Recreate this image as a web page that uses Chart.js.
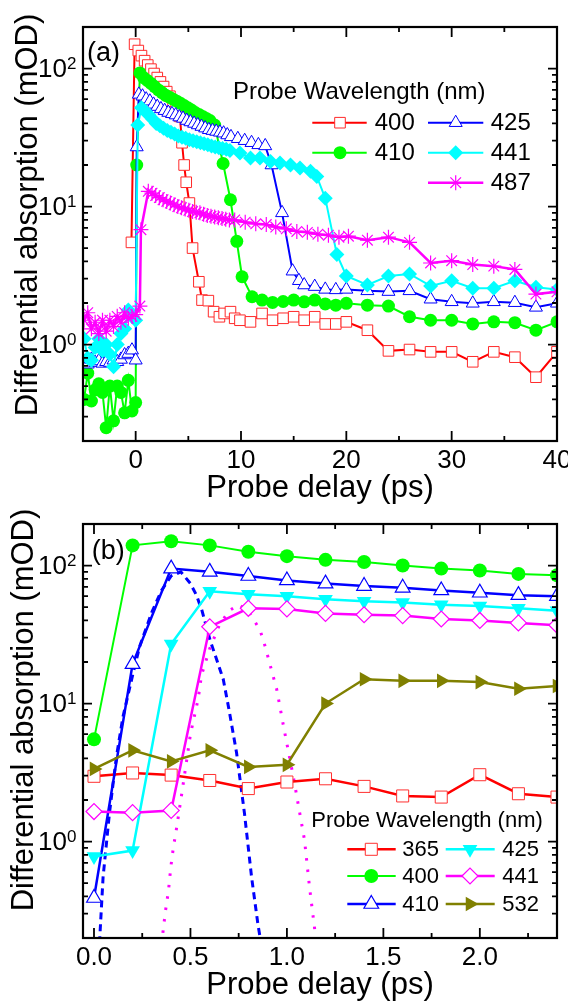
<!DOCTYPE html>
<html>
<head>
<meta charset="utf-8">
<title>Probe delay traces</title>
<script src="https://cdn.jsdelivr.net/npm/chart.js@4.4.0/dist/chart.umd.min.js"></script>
<style>
  html, body { margin: 0; padding: 0; background: #fff; }
  canvas { display: block; }
</style>
</head>
<body>
<canvas id="chartA" width="568" height="510"></canvas>
<canvas id="chartB" width="568" height="496"></canvas>
<script>
/* ---------- panel (a) data : probe delay (ps) / absorption (mOD) ---------- */
const t400 = [-0.4, -0.1, 0.25, 0.55, 0.85, 1.15, 1.45, 1.75, 2.05, 2.35, 2.65, 2.95, 3.25, 3.55, 3.85,
  4.2, 4.4, 4.6, 4.8, 5.1, 5.4, 6.0, 6.3, 6.9, 7.4, 7.95, 8.4, 9.0, 9.4, 9.9,
  10.9, 12, 13, 14, 15, 16, 17, 18, 19, 20, 22, 24, 26, 28, 30, 32, 34, 36, 38, 40];
const v400 = [5.5, 150, 135, 124, 114, 106, 99, 92, 86, 80, 74, 68, 63, 58, 53,
  45, 29, 20, 15, 10.6, 5.0, 2.85, 2.1, 2.08, 1.73, 1.59, 1.68, 1.73, 1.55, 1.5,
  1.46, 1.68, 1.5, 1.55, 1.59, 1.5, 1.59, 1.41, 1.41, 1.46, 1.27, 0.9, 0.92, 0.885, 0.885, 0.75, 0.885, 0.81, 0.58, 0.885];

const t410 = [-4.9, -4.55, -4.2, -3.85, -3.5, -3.15, -2.8, -2.45, -2.1, -1.75, -1.4, -1.05, -0.7, -0.35, 0.0, 0.1,
  0.4, 0.75, 1.1, 1.45, 1.8, 2.15, 2.5, 2.85, 3.2, 3.55, 3.9, 4.25, 4.6, 4.95, 5.3, 5.65, 6.0, 6.35, 6.7, 7.05,
  7.5, 8.3, 9.0, 9.6, 10.1, 11.05, 12, 13, 14, 15, 16, 17, 18, 19, 20, 22, 24, 26, 28, 30, 32, 34, 36, 38, 40];
const v410 = [0.4, 0.62, 0.39, 0.47, 0.52, 0.45, 0.25, 0.5, 0.28, 0.5, 0.45, 0.32, 0.55, 0.33, 0.38, 20,
  93, 86, 82, 78, 74, 70, 67, 64, 62, 60, 58, 56, 54, 52, 50, 48, 46.5, 45, 43.5, 42,
  39, 20.5, 11.2, 5.6, 3.1, 2.22, 2.1, 2.02, 2.05, 2.1, 2.04, 2.1, 1.97, 1.93, 1.99, 1.93, 1.9, 1.59, 1.5, 1.5, 1.41, 1.46, 1.44, 1.27, 1.46];

const t425 = [-4.9, -4.55, -4.2, -3.85, -3.5, -3.15, -2.8, -2.45, -2.1, -1.75, -1.4, -1.05, -0.7, -0.35, 0.0, 0.1,
  0.3, 0.65, 1.0, 1.35, 1.7, 2.05, 2.4, 2.75, 3.1, 3.45, 3.8, 4.15, 4.5, 4.85, 5.2, 5.55, 5.9, 6.25, 6.6, 6.95,
  7.3, 7.65, 8.0, 8.35, 8.7, 9.05, 9.7, 10.35, 11.0, 11.65, 12.3, 12.9, 13.9, 14.9, 15.5,
  16, 17, 18, 19, 20, 22, 24, 26, 28, 30, 32, 34, 36, 38, 40];
const v425 = [0.75, 0.72, 0.78, 0.74, 0.76, 0.73, 0.75, 0.74, 0.77, 0.75, 0.78, 0.84, 0.86, 0.91, 0.77, 27,
  65, 63, 60, 58, 55, 53, 51, 49.5, 48, 47, 46, 44.5, 43.5, 42, 41, 40, 39, 38, 37, 36,
  35.5, 35, 34.5, 34, 33, 32, 31, 30, 29, 28, 27.5, 20, 9.0, 3.4, 2.9,
  2.7, 2.63, 2.51, 2.49, 2.51, 2.45, 2.42, 2.45, 2.13, 2.04, 1.99, 2.04, 2.01, 1.86, 1.99];

const t441 = [-4.9, -4.55, -4.2, -3.85, -3.5, -3.15, -2.8, -2.45, -2.1, -1.75, -1.4, -1.05, -0.7, -0.35, 0.0, 0.2,
  0.55, 0.9, 1.25, 1.6, 1.95, 2.3, 2.65, 3.0, 3.35, 3.7, 4.05, 4.4, 4.75, 5.1, 5.45, 5.8, 6.15, 6.5, 6.85, 7.2,
  7.55, 7.9, 8.25, 8.6, 8.95, 9.9, 10.9, 11.8, 12.8, 13.7, 14.7, 15.6, 16.6, 17.2, 18.0, 19.1, 20,
  22, 24, 26, 28, 30, 32, 34, 36, 38, 40];
const v441 = [1.1, 0.8, 0.77, 0.95, 1.1, 0.9, 1.0, 0.85, 0.69, 1.0, 1.2, 1.3, 1.78, 1.6, 1.5, 39,
  52, 49, 46, 43, 40, 38.5, 37, 35.5, 34.5, 33.5, 32.5, 31.8, 31.2, 30.5, 30, 29.5, 29, 28.5, 28, 27.5,
  27, 26.7, 26.3, 26, 25.5, 24.4, 22.5, 22.5, 21.2, 20.7, 20, 19, 18, 16.5, 11.5, 4.5, 3.14,
  2.7, 3.14, 3.25, 2.66, 2.9, 2.56, 2.56, 2.9, 2.6, 2.51];

const t487 = [-4.9, -4.55, -4.2, -3.85, -3.5, -3.15, -2.8, -2.45, -2.1, -1.75, -1.4, -1.05, -0.7, -0.35, 0.0, 0.4, 0.5,
  1.2, 1.55, 1.9, 2.25, 2.6, 2.95, 3.3, 3.65, 4.0, 4.35, 4.7, 5.05, 5.4, 5.75, 6.1, 6.45, 6.8, 7.15, 7.5, 7.85, 8.2, 8.55, 8.9,
  9.4, 10.4, 11.4, 12.4, 13.3, 14.3, 15.3, 16.3, 17.3, 18.3, 19.3, 20.2, 22, 24, 26, 28, 30, 32, 34, 36, 38, 40];
const v487 = [1.5, 1.7, 1.3, 1.45, 1.2, 1.5, 1.25, 1.5, 1.35, 1.6, 1.45, 1.7, 1.55, 1.6, 1.65, 1.9, 6.8,
  12.9, 12.5, 12, 11.6, 11.2, 10.9, 10.6, 10.3, 10, 9.8, 9.6, 9.4, 9.2, 9.1, 9.0, 8.8, 8.6, 8.5, 8.4, 8.3, 8.2, 8.1, 8.0,
  8.0, 7.7, 7.5, 7.4, 7.1, 6.9, 6.6, 6.5, 6.3, 6.2, 6.0, 6.1, 5.7, 6.0, 5.5, 3.9, 4.05, 3.8, 3.7, 3.5, 2.32, 2.41];

/* ---------- panel (b) data ---------- */
const delayB = [0, 0.2, 0.4, 0.6, 0.8, 1.0, 1.2, 1.4, 1.6, 1.8, 2.0, 2.2, 2.4];
const b365 = [2.97, 3.14, 3.03, 2.77, 2.42, 2.7, 2.85, 2.51, 2.14, 2.1, 3.05, 2.22, 2.1];
const b400 = [5.5, 140, 150, 140, 126, 117, 110, 106, 100, 95, 92, 87, 85];
const b410 = [0.39, 19.3, 95, 90, 84, 78, 74, 71, 69, 66, 63.5, 61, 60];
const b425 = [0.78, 0.86, 27, 65, 62, 60, 57, 55, 54, 52, 51, 49, 47];
const b441 = [1.65, 1.62, 1.68, 36, 49, 48.5, 45, 44, 43.4, 41, 40, 38.4, 37];
const b532 = [3.36, 4.58, 3.81, 4.58, 3.47, 3.6, 10, 15, 14.6, 14.6, 14.3, 12.8, 13.4];

// dashed (blue) and dotted (magenta) curves
const dashT = [0.025, 0.047, 0.08, 0.116, 0.15, 0.2, 0.237, 0.3, 0.35, 0.4, 0.45, 0.5, 0.531, 0.56, 0.601, 0.64, 0.67, 0.7, 0.739, 0.78, 0.817, 0.85, 0.88];
const dashV = [0.15, 0.55, 1.6, 4.1, 8, 16, 26, 46, 66, 84, 90, 74, 61, 47, 29, 20, 15, 9, 4.4, 1.6, 0.55, 0.25, 0.14];
const dotT = [0.35, 0.37, 0.386, 0.398, 0.412, 0.424, 0.45, 0.473, 0.5, 0.54, 0.557, 0.6, 0.65, 0.7, 0.75, 0.8, 0.817, 0.861, 0.887, 0.913, 0.947, 0.982, 1.039, 1.065, 1.091, 1.117, 1.134, 1.146, 1.165];
const dotV = [0.18, 0.31, 0.44, 0.65, 0.92, 1.15, 2.0, 3.3, 6, 10.8, 16, 25, 37, 47, 52, 47, 43, 34, 26, 19, 12.7, 6.9, 2.67, 1.65, 1.03, 0.47, 0.3, 0.22, 0.15];

/* ---------- ticks ---------- */
const xMajorA = [0, 10, 20, 30, 40];
const xMinorA = [5, 15, 25, 35];
const xMajorB = [0, 0.5, 1.0, 1.5, 2.0];
const xMinorB = [0.25, 0.75, 1.25, 1.75, 2.25];
const yDecades = [0, 1, 2];

const FONT = '"Liberation Sans", Arial, sans-serif';
Chart.defaults.font.family = FONT;
Chart.defaults.color = '#000';

function series(ts, vs, style) {
  return Object.assign({
    data: ts.map((t, i) => ({ x: t, y: vs[i] })),
    tension: 0, fill: false, clip: 0, pointHoverRadius: style.pointRadius
  }, style);
}

// log minor ticks 2..9 within the axis range
function logMinors(min, max) {
  const out = [];
  [0.1, 1, 10, 100].forEach(d => {
    for (let m = 2; m <= 9; m++) {
      const v = m * d;
      if (v >= min && v <= max) out.push(v);
    }
  });
  return out;
}

// frame, inward ticks, y labels with exponents, y title, panel tag, legend
const framePlugin = {
  id: 'frame',
  afterDraw(chart, args, o) {
    const { ctx, chartArea: a, scales: { x, y } } = chart;
    ctx.save();
    ctx.strokeStyle = '#000';
    ctx.lineWidth = 1.8;
    ctx.beginPath();
    o.xMajor.concat(o.xMinor).forEach(v => {
      const len = o.xMajor.includes(v) ? 10 : 5;
      const px = x.getPixelForValue(v);
      ctx.moveTo(px, a.bottom); ctx.lineTo(px, a.bottom - len);
      ctx.moveTo(px, a.top); ctx.lineTo(px, a.top + len);
    });
    const majY = yDecades.map(e => Math.pow(10, e));
    majY.concat(logMinors(y.min, y.max)).forEach(v => {
      const len = majY.includes(v) ? 9 : 5;
      const py = y.getPixelForValue(v);
      ctx.moveTo(a.left, py); ctx.lineTo(a.left + len, py);
      ctx.moveTo(a.right, py); ctx.lineTo(a.right - len, py);
    });
    ctx.stroke();
    ctx.lineWidth = 2.2;
    ctx.strokeRect(a.left, a.top, a.right - a.left, a.bottom - a.top);

    // y tick labels 10^n
    ctx.fillStyle = '#000';
    yDecades.forEach(e => {
      const py = y.getPixelForValue(Math.pow(10, e));
      ctx.font = '26px ' + FONT;
      ctx.textAlign = 'right';
      ctx.textBaseline = 'middle';
      ctx.fillText('10', a.left - 16, py + 1.5);
      ctx.font = '17px ' + FONT;
      ctx.textAlign = 'left';
      ctx.textBaseline = 'alphabetic';
      ctx.fillText(String(e), a.left - 16, py);
    });

    // y title
    ctx.save();
    ctx.translate(a.left + o.yTitle[0], a.top + o.yTitle[1]);
    ctx.rotate(-Math.PI / 2);
    ctx.font = '31px ' + FONT;
    ctx.textAlign = 'center';
    ctx.textBaseline = 'middle';
    ctx.fillText('Differential absorption (mOD)', 0, 0);
    ctx.restore();

    // panel tag
    ctx.font = '27px ' + FONT;
    ctx.textAlign = 'left';
    ctx.textBaseline = 'alphabetic';
    ctx.fillText(o.tag[0], a.left + o.tag[1], a.top + o.tag[2]);

    // legend
    const L = o.legend;
    ctx.font = L.size + 'px ' + FONT;
    ctx.fillText('Probe Wavelength (nm)', a.left + L.titleX, a.top + L.titleY);
    ctx.textBaseline = 'middle';
    L.items.forEach(([di, c, r]) => {
      const ds = chart.data.datasets[di];
      const col = L.cols[c];
      const yy = a.top + L.rows[r];
      ctx.setLineDash([]);
      ctx.strokeStyle = ds.borderColor;
      ctx.lineWidth = ds.borderWidth;
      ctx.beginPath();
      ctx.moveTo(a.left + col[0], yy);
      ctx.lineTo(a.left + col[1], yy);
      ctx.stroke();
      ctx.fillStyle = ds.pointBackgroundColor;
      ctx.strokeStyle = ds.pointBorderColor;
      ctx.lineWidth = ds.pointBorderWidth;
      Chart.helpers.drawPoint(ctx, {
        pointStyle: ds.pointStyle, radius: ds.pointRadius,
        rotation: ds.pointRotation || 0, borderWidth: ds.pointBorderWidth
      }, a.left + col[2], yy);
      ctx.fillStyle = '#000';
      ctx.fillText(ds.label, a.left + col[3], yy + 1);
    });
    ctx.restore();
  }
};

function makeOptions(cfg) {
  return {
    responsive: false,
    animation: false,
    events: [],
    layout: { padding: { left: 0, right: 11, top: cfg.top, bottom: 0 } },
    plugins: {
      legend: { display: false },
      tooltip: { enabled: false },
      frame: cfg.frame
    },
    scales: {
      x: {
        type: 'linear', min: cfg.xMin, max: cfg.xMax,
        afterFit: s => { s.height = cfg.xHeight; s.paddingLeft = 0; s.paddingRight = 0; },
        afterBuildTicks: s => { s.ticks = cfg.frame.xMajor.map(v => ({ value: v })); },
        ticks: { font: { size: 26 }, color: '#000', padding: 4, maxRotation: 0, autoSkip: false, callback: cfg.fmt },
        grid: { display: false, drawTicks: false },
        border: { display: false },
        title: { display: true, text: 'Probe delay (ps)', color: '#000', font: { size: 31, lineHeight: 1 }, padding: { top: 0, bottom: cfg.titlePad } }
      },
      y: {
        type: 'logarithmic', min: 0.2, max: 200,
        afterFit: s => { s.width = 83; },
        ticks: { display: false },
        grid: { display: false, drawTicks: false },
        border: { display: false }
      }
    }
  };
}

/* ---------- panel (a) ---------- */
new Chart(document.getElementById('chartA'), {
  type: 'line',
  data: {
    datasets: [
      series(t400, v400, { label: '400', borderColor: '#ff0000', borderWidth: 2, pointStyle: 'rect', pointRadius: 7.5,
        pointBackgroundColor: '#ffffff', pointBorderColor: '#ff2a2a', pointBorderWidth: 1, order: 5 }),
      series(t410, v410, { label: '410', borderColor: '#00ff00', borderWidth: 2, pointStyle: 'circle', pointRadius: 6.5,
        pointBackgroundColor: '#00ff00', pointBorderColor: '#00ff00', pointBorderWidth: 0, order: 4 }),
      series(t425, v425, { label: '425', borderColor: '#0000ff', borderWidth: 2, pointStyle: 'triangle', pointRadius: 7.5,
        pointBackgroundColor: '#ffffff', pointBorderColor: '#0000ff', pointBorderWidth: 1, order: 3 }),
      series(t441, v441, { label: '441', borderColor: '#00ffff', borderWidth: 2, pointStyle: 'rectRot', pointRadius: 7.5,
        pointBackgroundColor: '#00ffff', pointBorderColor: '#00ffff', pointBorderWidth: 0, order: 2 }),
      series(t487, v487, { label: '487', borderColor: '#ff00ff', borderWidth: 2.5, pointStyle: 'star', pointRadius: 7.5,
        pointBackgroundColor: '#ff00ff', pointBorderColor: '#ff00ff', pointBorderWidth: 1.2, order: 1 })
    ]
  },
  options: makeOptions({
    top: 27, xMin: -5, xMax: 40, xHeight: 69, titlePad: 6,
    fmt: v => String(v),
    frame: {
      xMajor: xMajorA, xMinor: xMinorA,
      yTitle: [-55, 188],
      tag: ['(a)', 4, 34],
      legend: {
        size: 24, titleX: 150, titleY: 72,
        rows: [95.7, 125.7, 155.7],
        cols: [[229.3, 283.7, 257, 291.7], [345, 400.3, 372.7, 407.7]],
        items: [[0, 0, 0], [1, 0, 1], [2, 1, 0], [3, 1, 1], [4, 1, 2]]
      }
    }
  }),
  plugins: [framePlugin]
});

/* ---------- panel (b) ---------- */
new Chart(document.getElementById('chartB'), {
  type: 'line',
  data: {
    datasets: [
      series(delayB, b365, { label: '365', borderColor: '#ff0000', borderWidth: 2.5, pointStyle: 'rect', pointRadius: 8.5,
        pointBackgroundColor: '#ffffff', pointBorderColor: '#ff3030', pointBorderWidth: 1, order: 6 }),
      series(delayB, b400, { label: '400', borderColor: '#00ff00', borderWidth: 2, pointStyle: 'circle', pointRadius: 7,
        pointBackgroundColor: '#00ff00', pointBorderColor: '#00ff00', pointBorderWidth: 0, order: 5 }),
      series(delayB, b410, { label: '410', borderColor: '#0000ff', borderWidth: 2.5, pointStyle: 'triangle', pointRadius: 8.5,
        pointBackgroundColor: '#ffffff', pointBorderColor: '#0000ff', pointBorderWidth: 1.2, order: 4 }),
      series(delayB, b425, { label: '425', borderColor: '#00ffff', borderWidth: 2.5, pointStyle: 'triangle', pointRotation: 180, pointRadius: 8.5,
        pointBackgroundColor: '#00ffff', pointBorderColor: '#00ffff', pointBorderWidth: 0, order: 3 }),
      series(delayB, b441, { label: '441', borderColor: '#ff00ff', borderWidth: 2.5, pointStyle: 'rectRot', pointRadius: 8,
        pointBackgroundColor: '#ffffff', pointBorderColor: '#ff00ff', pointBorderWidth: 1.2, order: 2 }),
      series(delayB, b532, { label: '532', borderColor: '#808000', borderWidth: 2.5, pointStyle: 'triangle', pointRotation: 90, pointRadius: 8.5,
        pointBackgroundColor: '#808000', pointBorderColor: '#808000', pointBorderWidth: 0, order: 1 }),
      series(dashT, dashV, { label: 'dash', borderColor: '#0000ff', borderWidth: 3, borderDash: [7, 5], pointRadius: 0, order: 8 }),
      series(dotT, dotV, { label: 'dot', borderColor: '#ff00ff', borderWidth: 3, borderDash: [2.5, 9], pointRadius: 0, order: 7 })
    ]
  },
  options: makeOptions({
    top: 14, xMin: -0.057, xMax: 2.4, xHeight: 68, titlePad: 5,
    fmt: v => Number(v).toFixed(1),
    frame: {
      xMajor: xMajorB, xMinor: xMinorB,
      yTitle: [-59, 186],
      tag: ['(b)', 8.7, 35],
      legend: {
        size: 22, titleX: 228.3, titleY: 303.3,
        rows: [325.3, 352, 380],
        cols: [[264.3, 312.7, 288.3, 319.3], [362.7, 411.7, 387, 419.3]],
        items: [[0, 0, 0], [1, 0, 1], [2, 0, 2], [3, 1, 0], [4, 1, 1], [5, 1, 2]]
      }
    }
  }),
  plugins: [framePlugin]
});
</script>
</body>
</html>
